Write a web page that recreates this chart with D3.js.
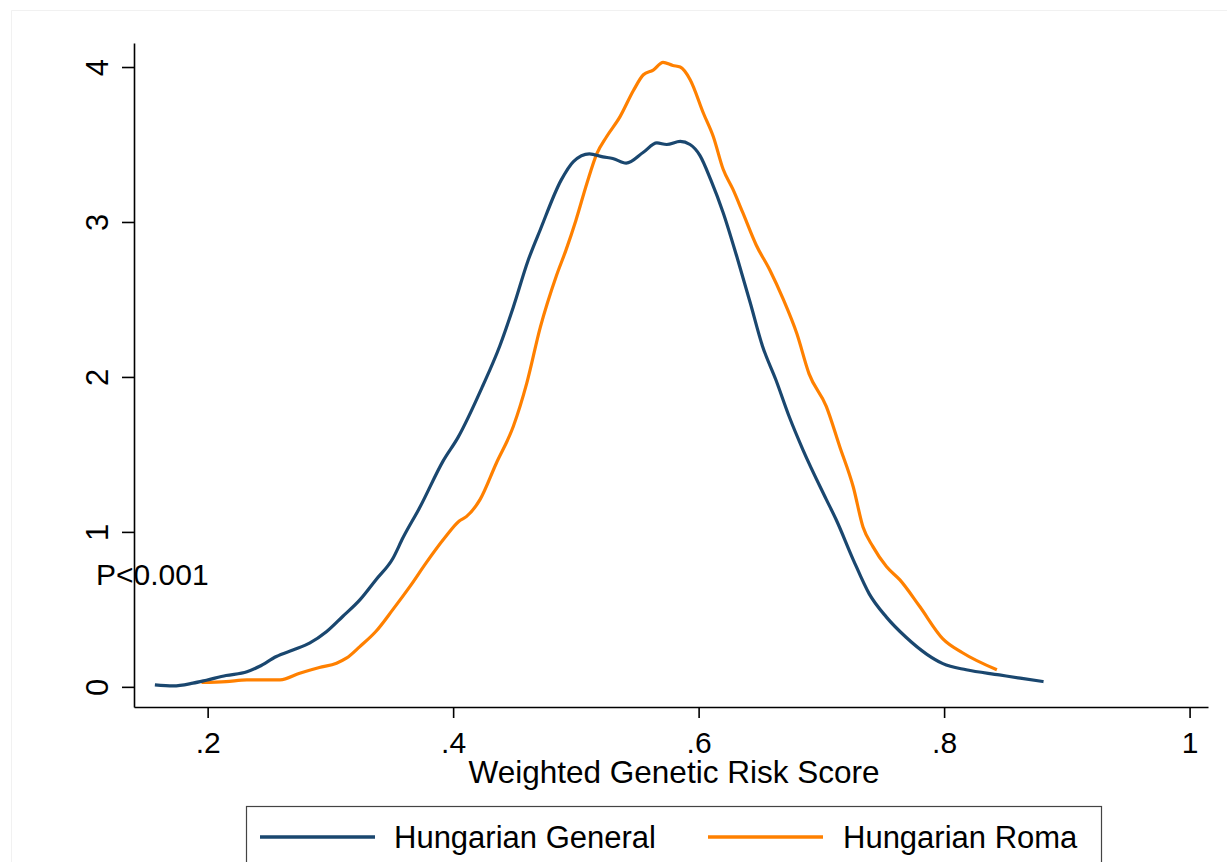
<!DOCTYPE html>
<html>
<head>
<meta charset="utf-8">
<script src="https://cdn.jsdelivr.net/npm/d3@7"></script>
<style>
  html, body { margin: 0; padding: 0; background: #fff; }
  svg { display: block; }
  text { font-family: "Liberation Sans", Arial, sans-serif; fill: #000; }
</style>
</head>
<body>
<div id="chart"></div>
<script>
// kernel density, Hungarian General
var scoreGeneral = [0.157, 0.172, 0.188, 0.199, 0.215, 0.232, 0.242, 0.256, 0.270, 0.283, 0.297, 0.310,
  0.324, 0.337, 0.351, 0.359, 0.373, 0.392, 0.404, 0.424, 0.438, 0.449, 0.461, 0.471, 0.488, 0.498,
  0.511, 0.522, 0.530, 0.541, 0.555, 0.566, 0.574, 0.585, 0.593, 0.601, 0.610, 0.620, 0.631, 0.642,
  0.652, 0.663, 0.674, 0.685, 0.704, 0.712, 0.726, 0.739, 0.753, 0.769, 0.786, 0.799, 0.818, 0.845,
  0.862, 0.881];
var densityGeneral = [0.013, 0.006, 0.024, 0.043, 0.073, 0.097, 0.131, 0.196, 0.239, 0.282, 0.357, 0.454,
  0.561, 0.69, 0.83, 0.96, 1.16, 1.46, 1.61, 1.94, 2.20, 2.45, 2.75, 2.95, 3.27, 3.39,
  3.44, 3.42, 3.41, 3.38, 3.45, 3.51, 3.50, 3.52, 3.50, 3.43, 3.27, 3.06, 2.78, 2.48,
  2.20, 1.98, 1.74, 1.53, 1.21, 1.08, 0.82, 0.60, 0.45, 0.32, 0.21, 0.15, 0.11, 0.077,
  0.056, 0.034];

// kernel density, Hungarian Roma
var scoreRoma = [0.195, 0.215, 0.232, 0.259, 0.275, 0.291, 0.305, 0.313, 0.324, 0.337, 0.351, 0.365,
  0.378, 0.393, 0.405, 0.411, 0.422, 0.435, 0.449, 0.460, 0.471, 0.484, 0.492, 0.500, 0.509, 0.517,
  0.525, 0.536, 0.547, 0.555, 0.563, 0.571, 0.579, 0.585, 0.593, 0.604, 0.612, 0.620, 0.628, 0.636,
  0.647, 0.658, 0.669, 0.680, 0.690, 0.704, 0.715, 0.726, 0.734, 0.742, 0.753, 0.764, 0.780, 0.799,
  0.815, 0.843];
var densityRoma = [0.028, 0.034, 0.045, 0.045, 0.088, 0.125, 0.153, 0.185, 0.26, 0.357, 0.50, 0.65,
  0.80, 0.96, 1.07, 1.10, 1.21, 1.44, 1.68, 1.96, 2.32, 2.65, 2.82, 3.01, 3.25, 3.44,
  3.55, 3.68, 3.85, 3.95, 3.98, 4.03, 4.01, 4.00, 3.92, 3.70, 3.55, 3.34, 3.21, 3.06,
  2.85, 2.69, 2.50, 2.28, 2.02, 1.81, 1.55, 1.29, 1.03, 0.905, 0.776, 0.69, 0.52, 0.31,
  0.22, 0.11];

var xTicks = [0.2, 0.4, 0.6, 0.8, 1];
var yTicks = [0, 1, 2, 3, 4];
var seriesNames = ["Hungarian General", "Hungarian Roma"];
var seriesColors = ["#1a476f", "#ff8000"];

var width = 1227, height = 862;
var plot = { left: 134, right: 1208, top: 43, bottom: 707 };

var svg = d3.select("#chart").append("svg")
  .attr("width", width)
  .attr("height", height);

// faint frame lines of the exported graph
svg.append("path")
  .attr("d", "M11.5,862 V10.5 H1227")
  .attr("fill", "none")
  .attr("stroke", "#f1f1f1")
  .attr("stroke-width", 1);

var x = d3.scaleLinear().domain([0.14, 1.015]).range([plot.left, plot.right]);
var y = d3.scaleLinear().domain([-0.13, 4.155]).range([plot.bottom, plot.top]);

var xAxis = svg.append("g")
  .attr("transform", "translate(0," + plot.bottom + ")")
  .call(d3.axisBottom(x)
    .tickValues(xTicks)
    .tickSize(11)
    .tickSizeOuter(0)
    .tickPadding(14)
    .tickFormat(function(d) { return d === 1 ? "1" : String(d).replace(/^0/, ""); }));

xAxis.selectAll("text").style("font-size", "30px");

var yAxis = svg.append("g")
  .attr("transform", "translate(" + plot.left + ",0)")
  .call(d3.axisLeft(y)
    .tickValues(yTicks)
    .tickSize(12)
    .tickSizeOuter(0)
    .tickFormat(d3.format("d")));

yAxis.selectAll("text")
  .attr("x", 0)
  .attr("dy", 0)
  .attr("text-anchor", "middle")
  .attr("transform", "translate(-26,0) rotate(-90)")
  .style("font-size", "31px");

svg.selectAll(".domain, .tick line")
  .attr("stroke", "#000")
  .attr("stroke-width", 1.6);

svg.append("text")
  .attr("x", (plot.left + plot.right) / 2 + 3)
  .attr("y", 783)
  .attr("text-anchor", "middle")
  .style("font-size", "31.5px")
  .text("Weighted Genetic Risk Score");

svg.append("text")
  .attr("x", 96)
  .attr("y", 585)
  .style("font-size", "30px")
  .text("P<0.001");

var line = d3.line()
  .x(function(d) { return x(d[0]); })
  .y(function(d) { return y(d[1]); })
  .curve(d3.curveMonotoneX);

var series = [
  d3.zip(scoreGeneral, densityGeneral),
  d3.zip(scoreRoma, densityRoma)
];

// Roma first so that General sits on top in the left tail
svg.selectAll(".density")
  .data([1, 0])
  .enter().append("path")
  .attr("class", "density")
  .attr("d", function(i) { return line(series[i]); })
  .attr("fill", "none")
  .attr("stroke", function(i) { return seriesColors[i]; })
  .attr("stroke-width", 3.2)
  .attr("stroke-linejoin", "round");

// legend
var legend = svg.append("g").attr("class", "legend");

legend.append("rect")
  .attr("x", 246.5)
  .attr("y", 806.5)
  .attr("width", 855)
  .attr("height", 80)
  .attr("fill", "#fff")
  .attr("stroke", "#444")
  .attr("stroke-width", 1.2);

var keyX = [260, 708];
var labelX = [394, 843];

legend.selectAll(".key")
  .data(seriesNames)
  .enter().append("line")
  .attr("class", "key")
  .attr("x1", function(d, i) { return keyX[i]; })
  .attr("x2", function(d, i) { return keyX[i] + 115; })
  .attr("y1", 837)
  .attr("y2", 837)
  .attr("stroke", function(d, i) { return seriesColors[i]; })
  .attr("stroke-width", 3.5);

legend.selectAll(".label")
  .data(seriesNames)
  .enter().append("text")
  .attr("class", "label")
  .attr("x", function(d, i) { return labelX[i]; })
  .attr("y", 848)
  .style("font-size", "31px")
  .text(function(d) { return d; });
</script>
</body>
</html>
